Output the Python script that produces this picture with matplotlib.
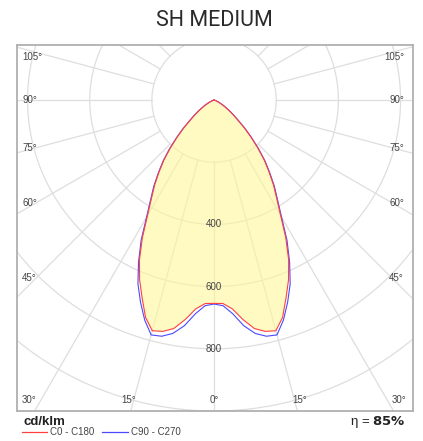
import numpy as np
import matplotlib.pyplot as plt
from matplotlib.lines import Line2D

# ==========================================
# Photometric data (cd/klm), symmetric curves
# ==========================================
gamma = [0, 2.5, 5, 7.5, 10, 12.5, 15, 17.5, 20, 22.5, 25, 27.5, 30, 32.5, 35,
         37.5, 40, 42.5, 45, 47.5, 50, 52.5, 55, 57.5, 60, 65, 70, 75, 80, 85, 90]
c0_c180 = [654, 655, 674, 712, 746, 762, 768, 733, 677, 626, 568, 500, 428, 375, 333,
           290, 250, 207, 167, 132, 100, 78, 60, 44, 33, 17, 6, 1, 0, 0, 0]
c90_c270 = [656, 662, 690, 732, 762, 778, 782, 742, 692, 640, 575, 508, 434, 380, 338,
            294, 254, 211, 170, 134, 101, 79, 61, 45, 34, 17, 6, 1, 0, 0, 0]

series_names = ["C0 - C180", "C90 - C270"]
series_colors = ["#ff4040", "#4a4aff"]

ring_values = [200, 400, 600, 800, 1000, 1200]
ring_labels = [400, 600, 800]
spoke_angles = np.arange(0, 360, 15)
side_labels = [105, 90, 75, 60, 45]
bottom_labels = [30, 15, 0, 15, 30]
bottom_signs = [-1, -1, 0, 1, 1]

title = "SH MEDIUM"
unit = "cd/klm"
efficiency = 85

LBL = ["Liberation Sans", "DejaVu Sans"]


def polar_xy(ang_deg, values):
    a = np.radians(ang_deg)
    v = np.asarray(values, dtype=float)
    return v * np.sin(a), -v * np.cos(a)


def full_curve(values):
    g = np.array(gamma, dtype=float)
    ang = np.concatenate([-g[::-1], g[1:]])
    vals = np.concatenate([np.array(values)[::-1], np.array(values)[1:]])
    return polar_xy(ang, vals)


fig = plt.figure(figsize=(4.23, 4.41), dpi=100)
ax = fig.add_axes([17 / 423, 30 / 441, 396 / 423, 366 / 441])
ax.set_xlim(-634, 640)
ax.set_ylim(-1000, 177)
ax.set_xticks([])
ax.set_yticks([])
for sp in ax.spines.values():
    sp.set_color("#b0b0b0")
    sp.set_linewidth(1.3)

# grid
t = np.linspace(0, 360, 721)
for r in ring_values:
    gx, gy = polar_xy(t, np.full_like(t, r))
    ax.plot(gx, gy, color="#dedede", lw=0.9, zorder=1)
for a in spoke_angles:
    sx, sy = polar_xy([a, a], [200, 1600])
    ax.plot(sx, sy, color="#dedede", lw=0.9, zorder=1)

# curves
x0, y0 = full_curve(c0_c180)
x1, y1 = full_curve(c90_c270)
ax.fill(x0, y0, color=(1.0, 0.97, 0.60), alpha=0.6, lw=0, zorder=2)
ax.plot(x1, y1, color=series_colors[1], lw=0.8, zorder=3)
ax.plot(x0, y0, color=series_colors[0], lw=0.8, zorder=4)

# ring labels
for r in ring_labels:
    ax.text(0, -r, str(r), ha="center", va="center", fontsize=7,
            color="#444444", family=LBL, zorder=5)

# angle labels on the sides
for a in side_labels:
    yy = min(-573 / np.tan(np.radians(a)), 138)
    ax.text(-617, yy, f"{a}°", ha="left", va="center", fontsize=7,
            color="#444444", family=LBL, zorder=5)
    ax.text(611, yy, f"{a}°", ha="right", va="center", fontsize=7,
            color="#444444", family=LBL, zorder=5)

# angle labels at the bottom
for a, s in zip(bottom_labels, bottom_signs):
    xx = s * 1030 * np.tan(np.radians(a))
    ax.text(xx, -965, f"{a}°", ha="center", va="center", fontsize=7,
            color="#444444", family=LBL, zorder=5)

fig.text(214 / 423, 1 - 20 / 441, title, ha="center", va="center", fontsize=15.5,
         color="#2a2a2a", family=["Roboto", "DejaVu Sans"])

fig.text(23 / 423, 19 / 441, unit, ha="left", va="center", fontsize=9.5,
         fontweight="bold", color="#222222", family=LBL)
fig.text(406 / 423, 19 / 441, rf"η = $\mathbf{{{efficiency}\%}}$", ha="right",
         va="center", fontsize=9.5, color="#222222", family=LBL)

# legend
legend_pos = [(22, 47, 50), (102, 128, 131)]
for (xa, xb, xt), name, col in zip(legend_pos, series_names, series_colors):
    fig.add_artist(Line2D([xa / 423, xb / 423], [9 / 441, 9 / 441], color=col, lw=0.9))
    fig.text(xt / 423, 9 / 441, name, ha="left", va="center", fontsize=7,
             color="#444444", family=LBL)

fig.savefig("out.png", dpi=100)
